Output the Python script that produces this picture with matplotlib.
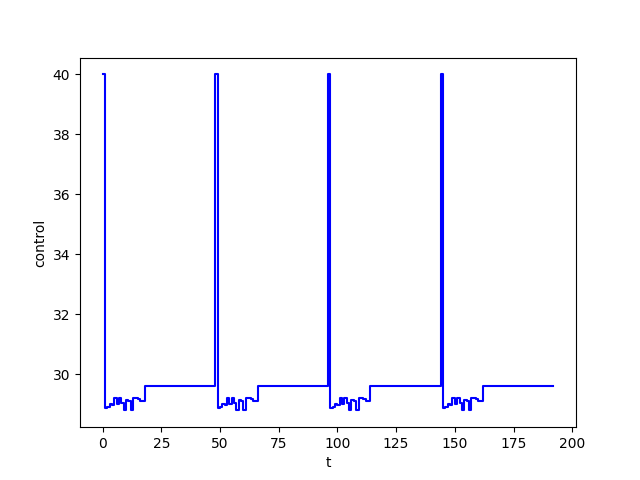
import numpy as np
import matplotlib
matplotlib.use("Agg")
import matplotlib.pyplot as plt

# one 48-step period of the control signal
peak = [40.0]
dip = [28.87, 28.92, 29.03, 28.97, 29.2, 29.0, 29.2, 29.05, 28.8,
       29.15, 29.1, 28.8, 29.2, 29.2, 29.18, 29.1, 29.1]
plateau = [29.6] * 30

period = peak + dip + plateau
control = period * 4 + [29.6]
t = np.arange(len(control))

fig = plt.figure(figsize=(6.4, 4.8), dpi=100)
plt.step(t, control, where="post", color="blue")
plt.xlabel("t")
plt.ylabel("control")
plt.savefig("out.png")
